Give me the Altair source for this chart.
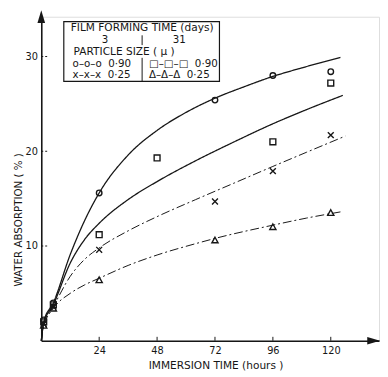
import altair as alt
import pandas as pd

# ---------------- data ----------------
# measured points (hours, water absorption %)
circle_t = [1, 5, 24, 72, 96, 120]
circle_v = [2.2, 4.0, 15.6, 25.4, 28.0, 28.4]
square_t = [1, 5, 24, 48, 96, 120]
square_v = [2.0, 3.8, 11.2, 19.3, 21.0, 27.2]
cross_t = [1, 5, 24, 72, 96, 120]
cross_v = [1.8, 3.6, 9.6, 14.7, 17.9, 21.7]
tri_t = [1, 5, 24, 72, 96, 120]
tri_v = [1.6, 3.4, 6.4, 10.6, 12.0, 13.5]

# fitted curves as drawn
c1_t = [0, 1, 5, 12, 18, 24, 36, 48, 60, 72, 84, 96, 108, 124]
c1_v = [0, 2.0, 4.0, 9.1, 12.7, 15.6, 19.6, 22.2, 24.1, 25.6, 26.8, 27.9, 28.8, 29.9]
c2_t = [0, 1, 5, 12, 18, 24, 36, 48, 64, 80, 96, 110, 125]
c2_v = [0, 1.8, 3.8, 8.2, 10.7, 12.4, 14.9, 16.8, 19.0, 21.0, 22.9, 24.4, 25.9]
c3_t = [0, 1, 5, 12, 18, 24, 36, 48, 64, 80, 96, 110, 126]
c3_v = [0, 1.7, 3.6, 6.8, 8.6, 9.8, 11.6, 13.1, 14.9, 16.65, 18.4, 19.9, 21.6]
c4_t = [0, 1, 5, 12, 18, 24, 36, 48, 64, 72, 96, 110, 124]
c4_v = [0, 1.5, 3.4, 5.0, 5.9, 6.6, 7.95, 9.05, 10.25, 10.8, 12.2, 12.95, 13.6]

x_ticks = [24, 48, 72, 96, 120]
y_ticks = [10, 20, 30]

NB = "\u00a0"
x_title = "IMMERSION TIME (hours )"
y_title = "WATER ABSORPTION ( % )"
legend_title = "FILM FORMING TIME (days)"
legend_days = ["3", "31"]
legend_sub = "PARTICLE SIZE ( \u03bc )"
legend_left = ["o\u2013o\u2013o" + NB * 2 + "0\u00b790", "x\u2013x\u2013x" + NB * 2 + "0\u00b725"]
legend_right = ["\u25a1\u2013\u25a1\u2013\u25a1" + NB * 2 + "0\u00b790", "\u0394\u2013\u0394\u2013\u0394" + NB * 2 + "0\u00b725"]

# ---------------- chart ----------------
INK = "#161616"
FONT = "DejaVu Sans"
W, H = 345, 331
XD = [0, 140]
YD = [0, 34.2]

xs = alt.Scale(domain=XD, nice=False, zero=False)
ys = alt.Scale(domain=YD, nice=False, zero=False)

def pts(t, v):
    return pd.DataFrame({"t": t, "v": v})

X = alt.X("t:Q", scale=xs, axis=alt.Axis(values=x_ticks, title=x_title, grid=False, ticks=False,
                                            domainColor=INK, domainWidth=1.6, labelFont=FONT,
                                            labelFontSize=10, labelColor=INK, labelPadding=5,
                                            titleFont=FONT, titleFontSize=10.8, titleFontWeight="normal",
                                            titleColor=INK, titleX=178, titleY=19, titleAnchor="middle"))
Y = alt.Y("v:Q", scale=ys, axis=alt.Axis(values=y_ticks, title=y_title, grid=False, ticks=False,
                                            domainColor=INK, domainWidth=1.6, labelFont=FONT,
                                            labelFontSize=10, labelColor=INK, labelPadding=4,
                                            titleFont=FONT, titleFontSize=10.5, titleFontWeight="normal",
                                            titleColor=INK, titleX=-23, titleY=207, titleAngle=270,
                                            titleAnchor="middle", titleBaseline="middle"))

def curve(t, v, dash, width):
    return alt.Chart(pts(t, v)).mark_line(interpolate="monotone", color=INK, strokeWidth=width,
                                           strokeDash=dash).encode(x=X, y=Y)

curves = [
    curve(c1_t, c1_v, [1, 0], 1.3),
    curve(c2_t, c2_v, [1, 0], 1.3),
    curve(c3_t, c3_v, [9, 3, 2, 3], 1.0),
    curve(c4_t, c4_v, [9, 3, 2, 3], 1.0),
]

def markers(t, v, shape, size):
    return alt.Chart(pts(t, v)).mark_point(shape=shape, size=size, filled=False, color=INK,
                                            strokeWidth=1.4, opacity=1).encode(x=X, y=Y)

marks = [
    markers(circle_t, circle_v, "circle", 32),
    markers(square_t, square_v, "square", 36),
    markers(cross_t, cross_v, "M-1,-1L1,1M1,-1L-1,1", 36),
    markers(tri_t, tri_v, "M0,-1L1,0.8L-1,0.8Z", 40),
]

# inward tick marks
xt = alt.Chart(pd.DataFrame({"t": x_ticks})).mark_rule(color=INK, strokeWidth=1).encode(
    x=alt.X("t:Q", scale=xs), y=alt.value(H), y2=alt.value(H - 4))
yt = alt.Chart(pd.DataFrame({"v": y_ticks})).mark_rule(color=INK, strokeWidth=1, strokeDash=[2, 2]).encode(
    y=alt.Y("v:Q", scale=ys), x=alt.value(0), x2=alt.value(8))

one = pd.DataFrame({"k": [0]})

# axis arrows
arrow_up = alt.Chart(one).mark_point(shape="M0,-1L0.6,1L-0.6,1Z", size=169, filled=True, color=INK,
                                     opacity=1, clip=False).encode(x=alt.value(0), y=alt.value(0))
arrow_right = alt.Chart(one).mark_point(shape="M1,0L-1,-0.6L-1,0.6Z", size=169, filled=True, color=INK,
                                        opacity=1, clip=False).encode(x=alt.value(339.5), y=alt.value(H))

# legend box
box = alt.Chart(one).mark_rect(fill="white", stroke=INK, strokeWidth=1.2).encode(
    x=alt.value(23), x2=alt.value(182), y=alt.value(5), y2=alt.value(66))
divider = alt.Chart(one).mark_rule(color=INK, strokeWidth=1).encode(
    x=alt.value(103), y=alt.value(42), y2=alt.value(66))
bracket = alt.Chart(one).mark_rule(color=INK, strokeWidth=1).encode(
    x=alt.value(103), y=alt.value(19), y2=alt.value(29))

def txt(s, x, y, align="left", size=10.5):
    return alt.Chart(one).mark_text(text=s, font=FONT, fontSize=size, color=INK, align=align,
                                    baseline="middle").encode(x=alt.value(x), y=alt.value(y))

legend_texts = [
    txt(legend_title, 103, 12, "center", 10.8),
    txt(legend_days[0], 65, 24, "center"),
    txt(legend_days[1], 141, 24, "center"),
    txt(legend_sub, 33, 36.5, "left", 10.8),
    txt(legend_left[0], 32, 48.5),
    txt(legend_left[1], 32, 60),
    txt(legend_right[0], 110, 48.5),
    txt(legend_right[1], 110, 60),
]

chart = alt.layer(*curves, *marks, xt, yt, arrow_up, arrow_right, box, divider, bracket, *legend_texts).properties(
    width=W, height=H,
    autosize=alt.AutoSizeParams(type="none"),
    padding={"left": 34, "top": 5, "right": 1, "bottom": 28},
).configure_view(stroke=None).configure(background="white")

chart.save("out.html", embed_options={"renderer": "svg", "actions": False})
